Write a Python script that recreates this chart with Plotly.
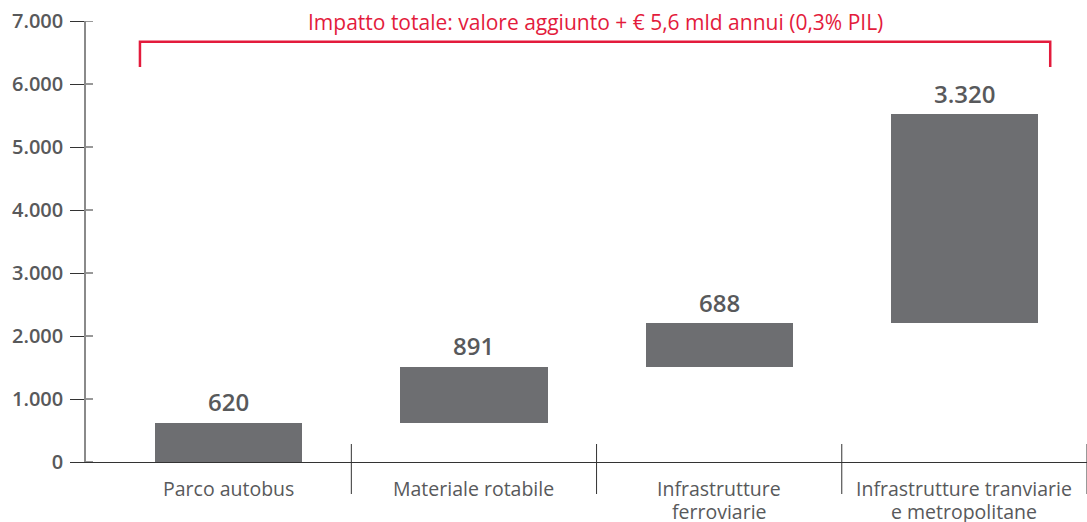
import plotly.graph_objects as go

categories = ["Parco autobus", "Materiale rotabile", "Infrastrutture<br>ferroviarie",
              "Infrastrutture tranviarie<br>e metropolitane"]
values = [620, 891, 688, 3320]
y_tick_vals = [0, 1000, 2000, 3000, 4000, 5000, 6000, 7000]
y_tick_text = ["0", "1.000", "2.000", "3.000", "4.000", "5.000", "6.000", "7.000"]
bracket_label = "Impatto totale: valore aggiunto + € 5,6 mld annui (0,3% PIL)"

bases = []
acc = 0
for v in values:
    bases.append(acc)
    acc += v
tops = [b + v for b, v in zip(bases, values)]

FONT = "Open Sans"
GREY_TXT = "#58595B"
BAR = "#6D6E71"
RED = "#E31B3C"
DARK = "#333333"

fig = go.Figure()
fig.add_trace(go.Bar(
    x=list(range(len(categories))), y=values, base=bases,
    width=0.6, marker=dict(color=BAR, line=dict(width=0)),
    hoverinfo="skip"))

for i, (t, v) in enumerate(zip(tops, values)):
    fig.add_annotation(x=i, y=t, yshift=21, text=f"{v:,}".replace(",", "."),
                       showarrow=False, yanchor="middle",
                       font=dict(family=FONT, size=24, color=GREY_TXT, weight=600))

# category labels (one annotation per line, 23 px line spacing)
for i, cat in enumerate(categories):
    for j, line in enumerate(cat.split("<br>")):
        fig.add_annotation(x=i, y=0, xref="x", yref="paper", yanchor="middle",
                           yshift=-(26 + 23 * j), text=line, showarrow=False,
                           borderpad=0,
                           font=dict(family=FONT, size=19.5, color=GREY_TXT))

# category separators (crossing the x axis)
for i in range(len(categories)):
    fig.add_shape(type="line", xref="x", yref="paper", x0=i + 0.5, x1=i + 0.5,
                  y0=-32 / 441, y1=18 / 441, line=dict(color=DARK, width=1))

# inner parts of y ticks
for tv in y_tick_vals:
    fig.add_shape(type="line", xref="paper", yref="y", x0=0, x1=0.007,
                  y0=tv, y1=tv, line=dict(color=DARK, width=1))

# bracket
bx0, bx1 = -0.362, 3.35
fig.add_shape(type="path", xref="x", yref="y",
              path=f"M {bx0} 6270 L {bx0} 6670 L {bx1} 6670 L {bx1} 6270",
              line=dict(color=RED, width=2.5))
fig.add_annotation(x=(bx0 + bx1) / 2, y=7000, yshift=-1, text=bracket_label, showarrow=False,
                   yanchor="middle", font=dict(family=FONT, size=21, color=RED))

fig.update_layout(
    width=1087, height=522,
    margin=dict(l=86, r=0, t=21, b=60, autoexpand=False),
    plot_bgcolor="white", paper_bgcolor="white",
    showlegend=False, bargap=0,
    xaxis=dict(
        range=[-0.582, 3.5], tickvals=list(range(len(categories))),
        showticklabels=False,
        showgrid=False, zeroline=False, showline=True, linecolor=DARK, linewidth=1,
        ticks="", automargin=False),
    yaxis=dict(
        range=[0, 7000], tickvals=y_tick_vals, ticktext=y_tick_text,
        showgrid=False, zeroline=False, showline=True, linecolor="#8A8A8A", linewidth=1.5,
        ticks="outside", ticklen=14, tickcolor=DARK, tickwidth=1, ticklabelstandoff=3,
        automargin=False,
        tickfont=dict(family=FONT, size=20, color=GREY_TXT, weight=600)),
)

fig.write_html("out.html", config={"displayModeBar": False},
               post_script="document.body.style.margin='0';")
